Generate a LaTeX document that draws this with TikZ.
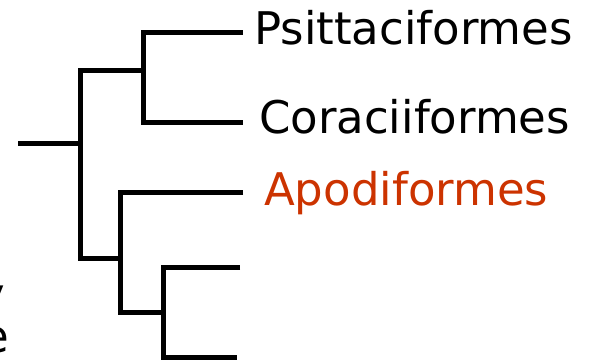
\documentclass[tikz,border=0pt]{standalone}
\usepackage{fontspec}
\setmainfont{DejaVu Sans}
\usepackage{xcolor}
\usetikzlibrary{positioning,calc}
\definecolor{apocol}{RGB}{204,51,0}

\begin{document}
\begin{tikzpicture}[x=1pt,y=-1pt,
  branch/.style={line width=5pt},
  taxon/.style={anchor=base west,inner sep=0pt,font=\fontsize{45}{54}\selectfont}]
  \clip (0,0) rectangle (598,364);
  % clade nodes
  \coordinate (root) at (18,143);
  \coordinate (n0) at (80,143);
  \coordinate (nup) at (143,70);
  \coordinate (nlow) at (120,258);
  \coordinate (nbot) at (163,312);
  % tips
  \coordinate (tpsi) at (243,32);
  \coordinate (tcor) at (243,122);
  \coordinate (tapo) at (243,192);
  \coordinate (ta) at (240,267);
  \coordinate (tb) at (237,357);
  \draw[branch] (root) -- (n0);
  \draw[branch] (nup) -| (n0) |- (nlow);
  \draw[branch] (nup) |- (tpsi);
  \draw[branch] (nup) |- (tcor);
  \draw[branch] (tapo) -| (nlow) |- (nbot);
  \draw[branch] (ta) -| (nbot) |- (tb);
  \node[taxon] (psi) at (254,45) {Psittaciformes};
  \node[taxon] (cor) at (259,133) {Coraciiformes};
  \node[taxon,apocol] (apo) at (264,205) {Apodiformes};
  % cut-off words on the left
  \node[taxon,anchor=base east] (fy) at (5,310) {y};
  \node[taxon,anchor=base east] (fe) at (9,352) {e};
\end{tikzpicture}
\end{document}
